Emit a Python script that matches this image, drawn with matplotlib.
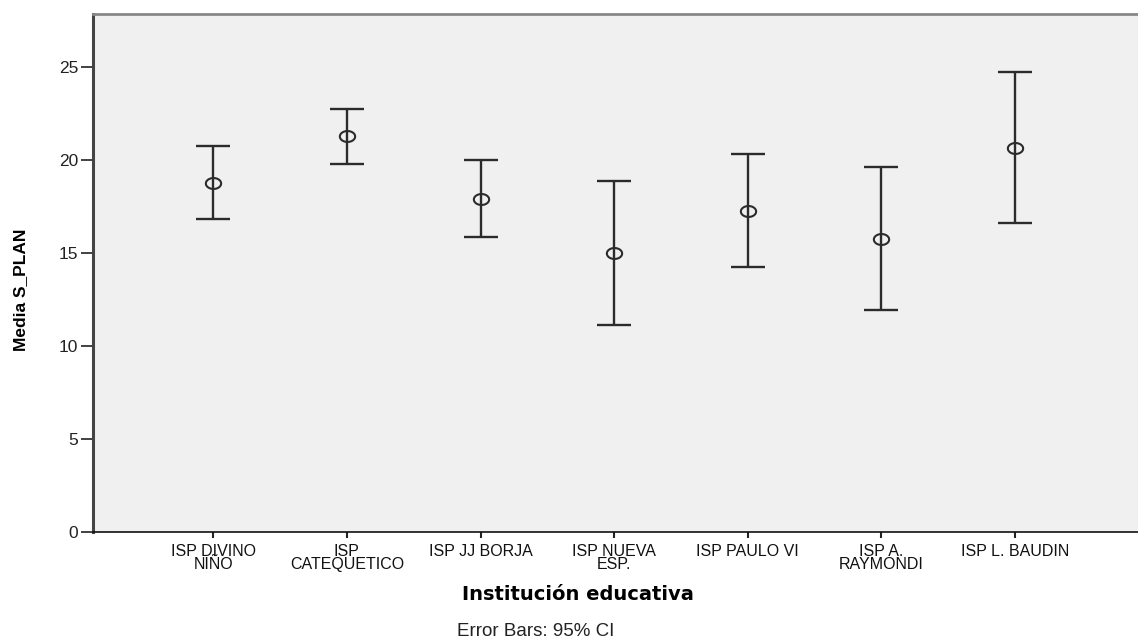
import matplotlib
matplotlib.use("Agg")
import matplotlib.pyplot as plt
from matplotlib.path import Path
import numpy as np

categories = ["ISP DIVINO\nNIÑO", "ISP\nCATEQUETICO", "ISP JJ BORJA", "ISP NUEVA\nESP.",
              "ISP PAULO VI", "ISP A.\nRAYMONDI", "ISP L. BAUDIN"]
means = [18.78, 21.30, 17.92, 15.04, 17.29, 15.79, 20.68]
ci_low = [16.86, 19.83, 15.86, 11.17, 14.25, 11.94, 16.63]
ci_high = [20.75, 22.77, 20.00, 18.90, 20.35, 19.63, 24.74]
yticks = [0, 5, 10, 15, 20, 25]

W, H = 1138, 641
fig = plt.figure(figsize=(W / 100, H / 100), dpi=100)
ax = fig.add_axes([93 / W, 1 - 532.3 / H, 1 - 93 / W, (532.3 - 14) / H])
ax.set_facecolor("#f0f0f0")

# oval marker shape (as in the SPSS output)
t = np.linspace(0, 2 * np.pi, 60)
oval = Path(np.column_stack([1.4 * np.cos(t), np.sin(t)]), closed=True)

x = np.arange(1, len(categories) + 1)
m = np.array(means)
yerr = np.vstack([m - np.array(ci_low), np.array(ci_high) - m])
ax.errorbar(x, m, yerr=yerr, fmt="none", ecolor="#2b2b2b",
            elinewidth=1.7, capsize=12.5, capthick=1.7)
ax.plot(x, m, linestyle="none", marker=oval, markersize=11, mfc="none",
        mec="#2b2b2b", mew=1.5)

ax.set_xlim(0.1, 7.92)
ax.set_ylim(0, 27.87)
ax.set_yticks(yticks)
ax.set_yticklabels([str(t) for t in yticks], family=["Liberation Sans"], fontsize=12.5, color="#222222")
ax.set_xticks(x)
ax.set_xticklabels(categories, family=["Liberation Sans"], fontsize=11.5, color="#111111",
                   linespacing=0.8)
ax.tick_params(axis="y", length=9, width=1.3, pad=1.5, color="#333333")
ax.tick_params(axis="x", length=4.5, width=1.5, pad=4, color="#222222")

ax.spines["right"].set_visible(False)
ax.spines["left"].set_linewidth(2.2)
ax.spines["left"].set_color("#444444")
ax.spines["top"].set_linewidth(2.0)
ax.spines["top"].set_color("#888888")
ax.spines["bottom"].set_linewidth(1.2)
ax.spines["bottom"].set_color("#111111")

fig.text(21 / W, 1 - 290 / H, "Media S_PLAN", rotation=90, ha="center", va="center",
         family=["Liberation Sans Narrow", "Liberation Sans"], fontweight="bold", fontsize=12.5)
fig.text(578 / W, 1 - 595 / H, "Institución educativa", ha="center", va="center",
         family=["DejaVu Sans"], fontweight="bold", fontsize=14)
fig.text(536 / W, 1 - 632 / H, "Error Bars: 95% CI", ha="center", va="center",
         family=["Liberation Sans"], fontsize=13.5, color="#222222")

fig.savefig("out.png", dpi=100, facecolor="white")
